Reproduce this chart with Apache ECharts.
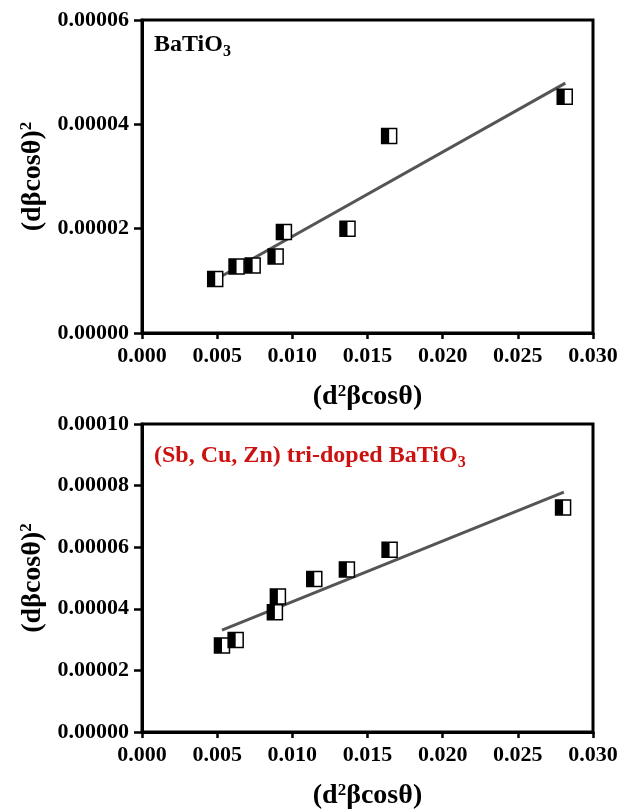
<!DOCTYPE html>
<html>
<head>
<meta charset="utf-8">
<script src="https://cdn.jsdelivr.net/npm/echarts@6/dist/echarts.min.js"></script>
<style>
  html, body { margin: 0; padding: 0; background: #fff; }
  #chart { width: 632px; height: 811px; }
</style>
</head>
<body>
<div id="chart"></div>
<script>
// Williamson–Hall style plots: (d²βcosθ) vs (dβcosθ)² for two samples

// Pure BaTiO3
const pureX = [0.00487, 0.00629, 0.00736, 0.00889, 0.00944, 0.01367, 0.01644, 0.02812];
const pureY = [1.034e-5, 1.275e-5, 1.295e-5, 1.467e-5, 1.934e-5, 1.997e-5, 3.778e-5, 4.53e-5];
const pureFitX = [0.00487, 0.02816];
const pureFitY = [1.02e-5, 4.79e-5];

// (Sb, Cu, Zn) tri-doped BaTiO3
const dopedX = [0.00532, 0.00623, 0.00884, 0.00904, 0.01146, 0.01363, 0.01647, 0.02801];
const dopedY = [2.81e-5, 2.99e-5, 3.89e-5, 4.40e-5, 4.97e-5, 5.28e-5, 5.92e-5, 7.29e-5];
const dopedFitX = [0.00532, 0.02806];
const dopedFitY = [3.31e-5, 7.79e-5];

// Axis ranges
const xMin = 0, xMax = 0.030, xStep = 0.005;
const topYMax = 0.00006, botYMax = 0.00010, yStep = 0.00002;

const FONT = "'Liberation Serif', 'Times New Roman', serif";
const zip = (a, b) => a.map((v, i) => [v, b[i]]);

// Half-filled square marker: black left half, white right half
function halfSquare(params, api) {
  const p = api.coord([api.value(0), api.value(1)]);
  const s = 15;
  return {
    type: 'group',
    children: [
      { type: 'rect', shape: { x: p[0] - s / 2, y: p[1] - s / 2, width: s, height: s },
        style: { fill: '#fff', stroke: '#000', lineWidth: 1.5 } },
      { type: 'rect', shape: { x: p[0] - s / 2, y: p[1] - s / 2, width: s / 2, height: s },
        style: { fill: '#000' } }
    ]
  };
}

const labelStyle = { fontFamily: FONT, fontWeight: 'bold', fontSize: 22, color: '#000' };

const axisNameRich = {
  a: { fontFamily: FONT, fontWeight: 'bold', fontSize: 28, color: '#000', lineHeight: 32 },
  s: { fontFamily: FONT, fontWeight: 'bold', fontSize: 17, color: '#000', lineHeight: 17, verticalAlign: 'top', padding: [2, 0, 0, 0] }
};

function xAxisFor(idx) {
  return {
    type: 'value', gridIndex: idx, min: xMin, max: xMax, interval: xStep,
    name: '{a|(d}{s|2}{a|βcosθ)}',
    nameLocation: 'middle', nameGap: 48,
    nameTextStyle: { rich: axisNameRich },
    axisLine: { show: true, lineStyle: { color: '#000', width: 3 } },
    axisTick: { show: true, inside: false, length: 6, lineStyle: { color: '#000', width: 2.5 } },
    axisLabel: Object.assign({ margin: 12, formatter: v => v.toFixed(3) }, labelStyle),
    splitLine: { show: false }
  };
}

function yAxisFor(idx, max) {
  return {
    type: 'value', gridIndex: idx, min: 0, max: max, interval: yStep,
    name: '{a|(dβcosθ)}{s|2}',
    nameLocation: 'middle', nameGap: 92,
    nameTextStyle: { rich: axisNameRich },
    axisLine: { show: true, lineStyle: { color: '#000', width: 3 } },
    axisTick: { show: true, inside: false, length: 8, lineStyle: { color: '#000', width: 2.5 } },
    axisLabel: Object.assign({ margin: 13, formatter: v => v.toFixed(5) }, labelStyle),
    splitLine: { show: false }
  };
}

function titleRich(color) {
  return {
    a: { fontFamily: FONT, fontWeight: 'bold', fontSize: 24, color: color, lineHeight: 30 },
    b: { fontFamily: FONT, fontWeight: 'bold', fontSize: 16, color: color, lineHeight: 16, verticalAlign: 'bottom' }
  };
}

const chart = echarts.init(document.getElementById('chart'), null, { renderer: 'canvas' });
chart.setOption({
  animation: false,
  backgroundColor: '#fff',
  title: [
    { text: '{a|BaTiO}{b|3}', left: 149, top: 25,
      textStyle: { rich: titleRich('#000') } },
    { text: '{a|(Sb, Cu, Zn) tri-doped BaTiO}{b|3}', left: 149, top: 436,
      textStyle: { rich: titleRich('#cc1111') } }
  ],
  grid: [
    { left: 142, top: 20, width: 451, height: 313, show: true, borderColor: '#000', borderWidth: 3, backgroundColor: 'transparent' },
    { left: 142, top: 424, width: 451, height: 314, show: true, borderColor: '#000', borderWidth: 3, backgroundColor: 'transparent' }
  ],
  xAxis: [xAxisFor(0), xAxisFor(1)],
  yAxis: [yAxisFor(0, topYMax), yAxisFor(1, botYMax)],
  series: [
    { type: 'line', xAxisIndex: 0, yAxisIndex: 0, data: zip(pureFitX, pureFitY), symbol: 'none',
      lineStyle: { color: '#555', width: 3 }, z: 2 },
    { type: 'custom', xAxisIndex: 0, yAxisIndex: 0, data: zip(pureX, pureY), renderItem: halfSquare, z: 3 },
    { type: 'line', xAxisIndex: 1, yAxisIndex: 1, data: zip(dopedFitX, dopedFitY), symbol: 'none',
      lineStyle: { color: '#555', width: 3 }, z: 2 },
    { type: 'custom', xAxisIndex: 1, yAxisIndex: 1, data: zip(dopedX, dopedY), renderItem: halfSquare, z: 3 }
  ]
});
</script>
</body>
</html>
